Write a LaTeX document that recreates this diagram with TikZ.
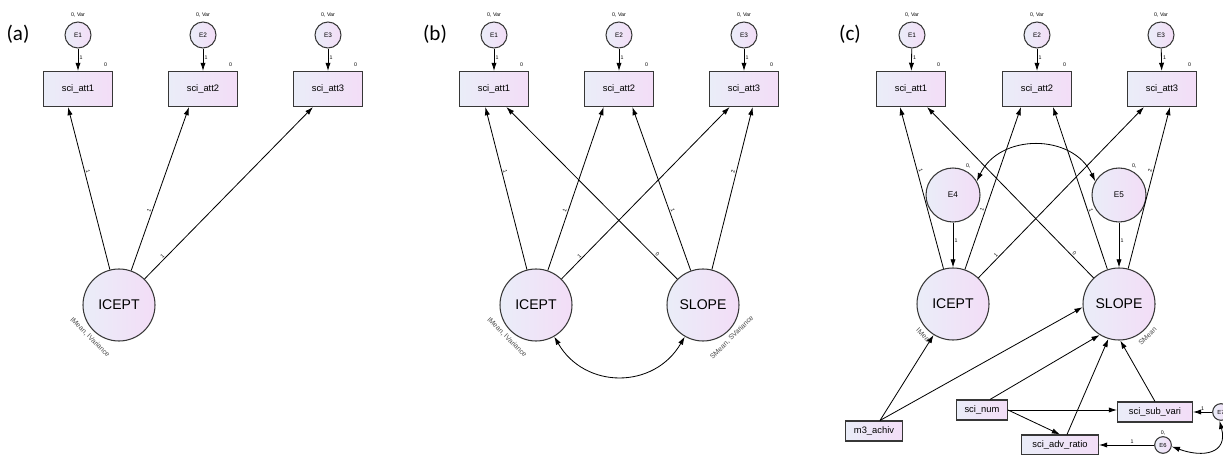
\documentclass[tikz,border=0pt]{standalone}
\usepackage{fontspec}
\setsansfont{Liberation Sans}
\newfontfamily\panelfont{Carlito}
\usetikzlibrary{arrows.meta,positioning}
\definecolor{fillL}{RGB}{234,237,248}
\definecolor{fillR}{RGB}{243,221,247}
\definecolor{lineC}{RGB}{55,55,55}
\newcommand{\fsz}[1]{\sffamily\fontsize{#1}{#1}\selectfont}

\begin{document}
\begin{tikzpicture}[x=0.03cm,y=-0.03cm,>={Latex[length=7pt,width=4.5pt]},
  coef/.style={font=\fsz{4.5},inner sep=1pt},
  shade box/.style={draw=lineC,line width=0.9pt,left color=fillL,right color=fillR},
  att/.style={shade box,minimum width=2.07cm,minimum height=1.05cm,inner sep=0pt,font=\fsz{8},
    label={[coef,anchor=south east,xshift=-4pt,yshift=2.5pt]north east:0}},
  cov/.style={shade box,minimum width=#1,minimum height=0.6cm,inner sep=0pt,font=\fsz{8}},
  err/.style={shade box,circle,minimum size=0.78cm,inner sep=0pt,font=\fsz{5.5},
    label={[coef,label distance=2.5pt]above:{0, Var}}},
  dist/.style={shade box,circle,minimum size=1.62cm,inner sep=0pt,font=\fsz{7},
    label={[coef]65:{0,}}},
  tiny err/.style={shade box,circle,minimum size=0.5cm,inner sep=0pt,font=\fsz{5}},
  lat/.style={shade box,circle,minimum size=2.16cm,inner sep=0pt,font=\fsz{12}},
  mean/.style={font=\fsz{6},text=black!70,inner sep=1pt},
  reg/.style={->,line width=0.7pt},
  panel/.style={font=\panelfont\fontsize{18}{18}\selectfont}]

  \useasboundingbox (0,0) rectangle (1223,455);

  % (a)
  \node[panel] (pa) at (18,34) {(a)};
  \node[err] (ae1) at (78,35) {E1};
  \node[err] (ae2) at (203,35) {E2};
  \node[err] (ae3) at (328,35) {E3};
  \node[att] (aa1) at (78,89) {sci\_att1};
  \node[att] (aa2) at (203,89) {sci\_att2};
  \node[att] (aa3) at (328,89) {sci\_att3};
  \node[lat] (aic) at (119,305) {ICEPT};
  \node[mean,rotate=-45,below=3pt of aic.-135] (aim) {IMean, IVariance};

  \path[reg]
    (ae1) edge node[coef,right,pos=.4]{1} (aa1)
    (ae2) edge node[coef,right,pos=.4]{1} (aa2)
    (ae3) edge node[coef,right,pos=.4]{1} (aa3)
    (aic) edge node[coef,sloped,above,pos=.6]{1} ([xshift=-0.3cm]aa1.south)
    (aic) edge node[coef,sloped,above,pos=.36]{1} ([xshift=-0.42cm]aa2.south)
    (aic) edge node[coef,sloped,above,pos=.12]{1} ([xshift=-0.45cm]aa3.south);

  % (b)
  \node[panel] (pb) at (435,34) {(b)};
  \node[err] (be1) at (494,35) {E1};
  \node[err] (be2) at (619,35) {E2};
  \node[err] (be3) at (744,35) {E3};
  \node[att] (ba1) at (494,89) {sci\_att1};
  \node[att] (ba2) at (619,89) {sci\_att2};
  \node[att] (ba3) at (744,89) {sci\_att3};
  \node[lat] (bic) at (536,305) {ICEPT};
  \node[lat] (bsl) at (703,305) {SLOPE};
  \node[mean,rotate=-45,below=3pt of bic.-135] (bim) {IMean, IVariance};
  \node[mean,rotate=45,below=3pt of bsl.-45] (bsm) {SMean, SVariance};

  \path[reg]
    (be1) edge node[coef,right,pos=.4]{1} (ba1)
    (be2) edge node[coef,right,pos=.4]{1} (ba2)
    (be3) edge node[coef,right,pos=.4]{1} (ba3)
    (bic) edge node[coef,sloped,above,pos=.6]{1} ([xshift=-0.26cm]ba1.south)
    (bic) edge node[coef,sloped,above,pos=.36]{1} ([xshift=-0.46cm]ba2.south)
    (bic) edge node[coef,sloped,above,pos=.12]{1} ([xshift=-0.43cm]ba3.south)
    (bsl) edge node[coef,sloped,above,pos=.13]{0} ([xshift=0.37cm]ba1.south)
    (bsl) edge node[coef,sloped,above,pos=.36]{1} ([xshift=0.4cm]ba2.south)
    (bsl) edge node[coef,sloped,above,pos=.6]{2} ([xshift=0.26cm]ba3.south);
  \draw[reg,<->] (bic) to[out=-60,in=-120,looseness=1.2] (bsl);

  % (c)
  \node[panel] (pc) at (850,34) {(c)};
  \node[err] (ce1) at (912,35) {E1};
  \node[err] (ce2) at (1037,35) {E2};
  \node[err] (ce3) at (1161,35) {E3};
  \node[att] (ca1) at (911,89) {sci\_att1};
  \node[att] (ca2) at (1037,89) {sci\_att2};
  \node[att] (ca3) at (1162,89) {sci\_att3};
  \node[dist] (ce4) at (953,195) {E4};
  \node[dist] (ce5) at (1119,195) {E5};
  \node[lat] (cic) at (953,304) {ICEPT};
  \node[lat] (csl) at (1119,304) {SLOPE};
  \node[mean,rotate=-45,below=3pt of cic.-135] (cim) {IMean};
  \node[mean,rotate=45,below=3pt of csl.-45] (csm) {SMean};
  \node[cov=1.71cm] (cm3) at (874,431) {m3\_achiv};
  \node[cov=1.53cm] (csn) at (982,410) {sci\_num};
  \node[cov=2.25cm] (css) at (1155,412) {sci\_sub\_vari};
  \node[cov=2.31cm] (csa) at (1060,445) {sci\_adv\_ratio};
  \node[tiny err,label={[coef]above:{0,}}] (ce6) at (1163,445) {E6};
  \node[tiny err] (ce7) at (1221,412) {E7};

  \path[reg]
    (ce1) edge node[coef,right,pos=.4]{1} (ca1)
    (ce2) edge node[coef,right,pos=.4]{1} (ca2)
    (ce3) edge node[coef,right,pos=.4]{1} (ca3)
    (ce4) edge node[coef,right,pos=.4]{1} (cic)
    (ce5) edge node[coef,right,pos=.4]{1} (csl)
    (cic) edge node[coef,sloped,above,pos=.6]{1} ([xshift=-0.33cm]ca1.south)
    (cic) edge node[coef,sloped,above,pos=.36]{1} ([xshift=-0.48cm]ca2.south)
    (cic) edge node[coef,sloped,above,pos=.12]{1} ([xshift=-0.54cm]ca3.south)
    (csl) edge node[coef,sloped,above,pos=.13]{0} ([xshift=0.48cm]ca1.south)
    (csl) edge node[coef,sloped,above,pos=.36]{1} ([xshift=0.48cm]ca2.south)
    (csl) edge node[coef,sloped,above,pos=.6]{2} ([xshift=0.24cm]ca3.south)
    ([xshift=0.18cm]cm3.north) edge (cic)
    ([xshift=0.18cm]cm3.north) edge (csl.185)
    ([xshift=0.24cm]csn.north) edge (csl.-122)
    (csn.east) edge (csn.east -| css.west)
    (csn.east) edge (csa.north)
    ([xshift=0.21cm]csa.north) edge (csl.-107)
    (css.north) edge (csl.-88)
    (ce6) edge node[coef,above,pos=.4]{1} (ce6 -| csa.east)
    (ce7) edge node[coef,above,pos=.5]{1} (ce7 -| css.east);
  \draw[reg,<->] (ce4.30) to[out=65,in=115,looseness=1.15] (ce5.150);
  \draw[reg,<->] (ce7.-100) to[out=-75,in=-20,looseness=1.6] (ce6.-10);

\end{tikzpicture}
\end{document}
